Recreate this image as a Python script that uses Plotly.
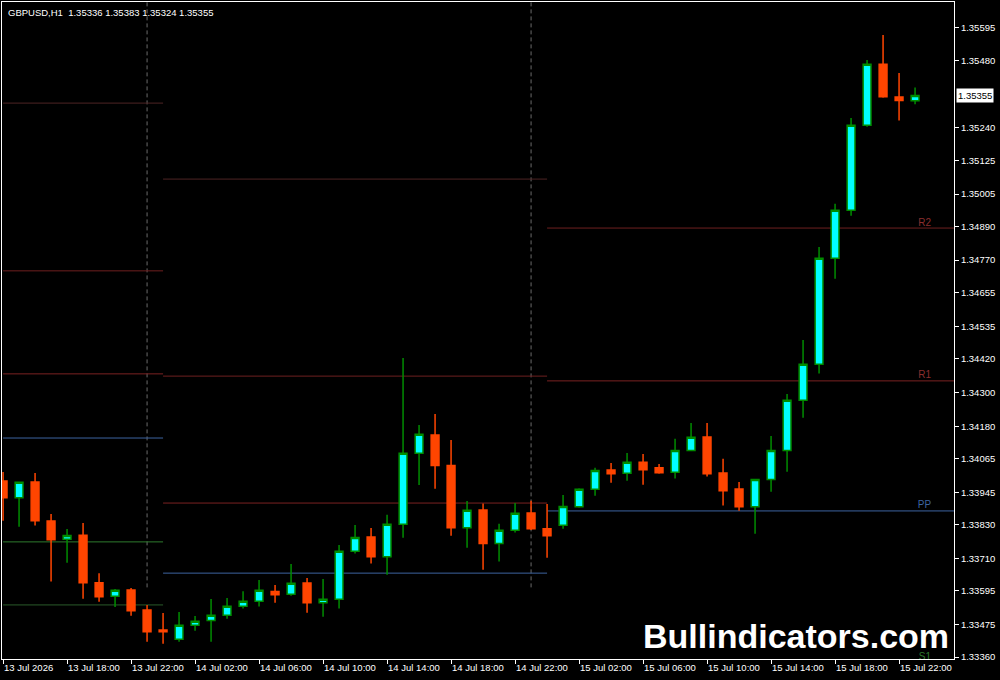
import pandas as pd
import plotly.graph_objects as go

# ---------------- data ----------------
start = pd.Timestamp("2026-07-13 14:00")
opens = [1.33985, 1.33926, 1.33982, 1.33843, 1.33778, 1.33793, 1.33624, 1.33576, 1.33598, 1.33527,
         1.33456, 1.33423, 1.33473, 1.33490, 1.33508, 1.33540, 1.33558, 1.33593, 1.33583, 1.33623,
         1.33553, 1.33565, 1.33736, 1.33786, 1.33716, 1.33832, 1.34084, 1.34149, 1.34040, 1.33819,
         1.33882, 1.33763, 1.33810, 1.33872, 1.33816, 1.33828, 1.33894, 1.33956, 1.34024, 1.34013,
         1.34052, 1.34032, 1.34016, 1.34094, 1.34142, 1.34014, 1.33957, 1.33894, 1.33991, 1.34094,
         1.34272, 1.34400, 1.34777, 1.34947, 1.35249, 1.35466, 1.35350, 1.35336]
highs = [1.34017, 1.33982, 1.34014, 1.33868, 1.33815, 1.33836, 1.33658, 1.33602, 1.33605, 1.33545,
         1.33516, 1.33520, 1.33506, 1.33566, 1.33570, 1.33594, 1.33634, 1.33616, 1.33690, 1.33641,
         1.33637, 1.33758, 1.33829, 1.33818, 1.33865, 1.34422, 1.34184, 1.34223, 1.34131, 1.33914,
         1.33905, 1.33833, 1.33907, 1.33915, 1.33904, 1.33936, 1.33960, 1.34032, 1.34049, 1.34085,
         1.34081, 1.34046, 1.34135, 1.34191, 1.34191, 1.34064, 1.33982, 1.33991, 1.34145, 1.34294,
         1.34486, 1.34817, 1.34970, 1.35275, 1.35481, 1.35570, 1.35435, 1.35383]
lows = [1.33844, 1.33823, 1.33827, 1.33628, 1.33695, 1.33567, 1.33556, 1.33538, 1.33507, 1.33414,
        1.33407, 1.33414, 1.33453, 1.33414, 1.33496, 1.33532, 1.33539, 1.33553, 1.33578, 1.33517,
        1.33503, 1.33532, 1.33728, 1.33692, 1.33652, 1.33784, 1.33971, 1.33958, 1.33791, 1.33748,
        1.33670, 1.33699, 1.33802, 1.33811, 1.33713, 1.33816, 1.33890, 1.33933, 1.33979, 1.33986,
        1.33972, 1.34011, 1.33994, 1.34092, 1.34001, 1.33898, 1.33880, 1.33798, 1.33947, 1.34018,
        1.34210, 1.34367, 1.34704, 1.34928, 1.35244, 1.35347, 1.35266, 1.35324]
closes = [1.33926, 1.33981, 1.33844, 1.33777, 1.33792, 1.33624, 1.33574, 1.33597, 1.33524, 1.33450,
          1.33450, 1.33473, 1.33487, 1.33508, 1.33540, 1.33558, 1.33597, 1.33581, 1.33622, 1.33553,
          1.33565, 1.33736, 1.33785, 1.33716, 1.33832, 1.34084, 1.34151, 1.34040, 1.33819, 1.33881,
          1.33763, 1.33810, 1.33871, 1.33816, 1.33791, 1.33895, 1.33956, 1.34023, 1.34011, 1.34052,
          1.34025, 1.34015, 1.34094, 1.34141, 1.34011, 1.33951, 1.33894, 1.33991, 1.34094, 1.34272,
          1.34400, 1.34777, 1.34947, 1.35249, 1.35466, 1.35351, 1.35337, 1.35355]
times = pd.date_range(start, periods=len(opens), freq="h")

# pivot levels per day segment
day1_levels = [1.35328, 1.34732, 1.34366, 1.34138, 1.33769, 1.33545]
day1_kinds = ["R3", "R2", "R1", "PP", "S1", "S2"]
day2_levels = [1.35058, 1.34358, 1.33907, 1.33658]
day2_kinds = ["R3", "R2", "R1", "PP"]
day3_levels = [1.34884, 1.34341, 1.33879, 1.33342]
day3_kinds = ["R2", "R1", "PP", "S1"]
seg_bounds = [pd.Timestamp("2026-07-13 14:00"), pd.Timestamp("2026-07-14 00:00"),
              pd.Timestamp("2026-07-15 00:00"), pd.Timestamp("2026-07-16 03:00")]
separators = [pd.Timestamp("2026-07-13 23:00"), pd.Timestamp("2026-07-14 23:00")]

y_ticks = [1.35595, 1.35480, 1.35240, 1.35125, 1.35005, 1.34890, 1.34770, 1.34655, 1.34535,
           1.34420, 1.34300, 1.34180, 1.34065, 1.33945, 1.33830, 1.33710, 1.33595, 1.33475, 1.33360]
last_price = 1.35355
title_text = "GBPUSD,H1\u00a0 1.35336 1.35383 1.35324 1.35355"

# ---------------- figure ----------------
FONT = "Liberation Sans"
kind_color = {"R3": "#4e2424", "R2": "#6e1f1f", "R1": "#7a2222", "PP": "#3d64a0",
              "S1": "#2e7a2e", "S2": "#2a5a2a"}
label_color = {"R2": "#8a2e2e", "R1": "#8a2e2e", "PP": "#3d64a0", "S1": "#2e7a2e"}

fig = go.Figure()
fig.add_trace(go.Candlestick(
    x=times, open=opens, high=highs, low=lows, close=closes,
    increasing=dict(line=dict(color="#008c00", width=1.5), fillcolor="#00FFFF"),
    decreasing=dict(line=dict(color="#FF4500", width=1.5), fillcolor="#FF4500"),
    hoverinfo="skip", showlegend=False,
))

shapes = []
for seg, (levels, kinds) in enumerate([(day1_levels, day1_kinds), (day2_levels, day2_kinds),
                                       (day3_levels, day3_kinds)]):
    for lv, kd in zip(levels, kinds):
        shapes.append(dict(type="line", xref="x", yref="y", x0=seg_bounds[seg], x1=seg_bounds[seg + 1],
                           y0=lv, y1=lv, line=dict(color=kind_color[kd], width=1), layer="below"))
for s in separators:
    shapes.append(dict(type="line", xref="x", yref="paper", x0=s, x1=s, y0=0.109, y1=1,
                       line=dict(color="#6a6a6a", width=1, dash="4px,3px"), layer="below"))

# pivot labels (clipped to plot area)
lab_x = times[-1] + pd.Timedelta(minutes=60)
fig.add_trace(go.Scatter(
    x=[lab_x] * len(day3_levels), y=day3_levels, text=day3_kinds, mode="text",
    textposition="top left", cliponaxis=True, hoverinfo="skip", showlegend=False,
    textfont=dict(family=FONT, size=10, color=[label_color[k] for k in day3_kinds]),
))

x_tickvals = list(times[::4])
x_ticktext = [f"{t.day} Jul {t.year}" if i == 0 else f"{t.day} Jul {t:%H:%M}"
              for i, t in enumerate(x_tickvals)]

fig.update_layout(
    width=1000, height=680,
    paper_bgcolor="#000000", plot_bgcolor="#000000",
    margin=dict(l=2, r=46, t=2, b=21),
    font=dict(family=FONT, size=9.5, color="#ffffff"),
    shapes=shapes,
    showlegend=False,
    xaxis=dict(
        range=[start - pd.Timedelta(minutes=4), start + pd.Timedelta(minutes=int(59.44 * 60))],
        rangeslider=dict(visible=False),
        tickmode="array", tickvals=x_tickvals, ticktext=x_ticktext,
        ticks="outside", ticklen=4, tickcolor="#ffffff", tickwidth=1,
        ticklabelposition="outside right",
        showgrid=False, zeroline=False,
        showline=True, linecolor="#ffffff", linewidth=1, mirror=True,
        tickfont=dict(family=FONT, size=9.5, color="#ffffff"),
    ),
    yaxis=dict(
        side="right",
        range=[1.333529, 1.356872],
        tickmode="array", tickvals=y_ticks, ticktext=[f"{v:.5f}" for v in y_ticks],
        ticks="outside", ticklen=4, tickcolor="#ffffff", tickwidth=1,
        showgrid=False, zeroline=False,
        showline=True, linecolor="#ffffff", linewidth=1, mirror=True,
        tickfont=dict(family=FONT, size=9.5, color="#ffffff"),
    ),
    annotations=[
        dict(text=title_text, xref="paper", yref="paper", x=0, y=1, xanchor="left", yanchor="top",
             xshift=4, yshift=-3, showarrow=False,
             font=dict(family=FONT, size=9.5, color="#ffffff")),
        dict(text=f"{last_price:.5f}", xref="paper", yref="y", x=1, y=last_price,
             xanchor="left", yanchor="middle", xshift=2, showarrow=False,
             bgcolor="#ffffff", borderpad=1,
             font=dict(family=FONT, size=9.5, color="#000000")),
        dict(text="<b>Bullindicators.com</b>", xref="paper", yref="paper", x=0.834, y=0.035,
             xanchor="center", yanchor="middle", showarrow=False,
             font=dict(family=FONT, size=34, color="#ffffff")),
    ],
)

fig.write_html("out.html", config={"displayModeBar": False},
               post_script="document.body.style.margin='0';document.body.style.padding='0';")
